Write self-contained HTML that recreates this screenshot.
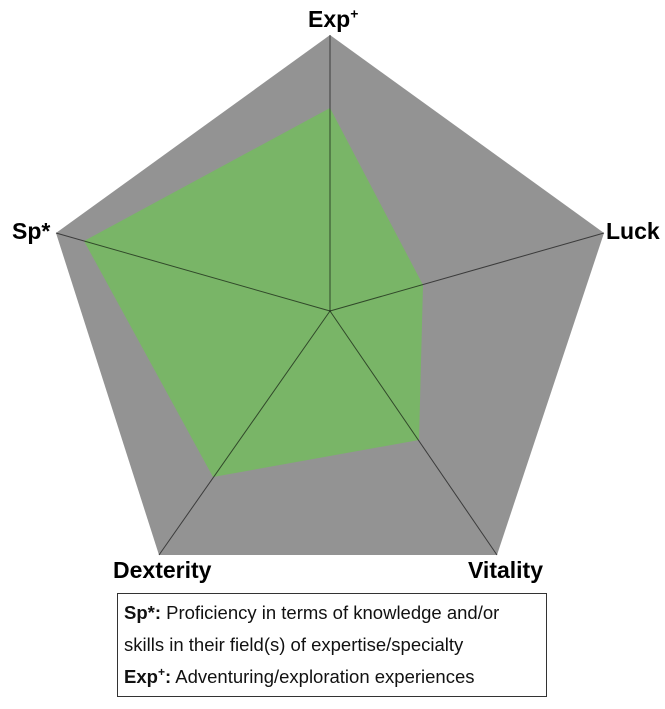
<!DOCTYPE html>
<html><head><style>
body{margin:0;background:#fff;width:665px;height:709px;overflow:hidden;position:relative;font-family:"Liberation Sans",sans-serif}
.l{position:absolute;font-weight:bold;font-size:23px;color:#000;white-space:nowrap}
.box{position:absolute;left:117px;top:593px;width:430px;height:104px;border:1px solid #333;box-sizing:border-box;padding:3px 0 0 6px;font-size:18.5px;line-height:32px;color:#111;white-space:nowrap}
sup{line-height:0}
</style></head><body>
<svg width="665" height="709" style="position:absolute;left:0;top:0">
<polygon points="330,35 604,233 497,555 159,555 56,233" fill="#939393"/>
<polygon points="330,108 423,285 419,440 213,477 84,241" fill="#79b567"/>
<g stroke="#000" stroke-opacity="0.6" stroke-width="1">
<line x1="330" y1="311" x2="330" y2="35"/>
<line x1="330" y1="311" x2="604" y2="233"/>
<line x1="330" y1="311" x2="497" y2="555"/>
<line x1="330" y1="311" x2="159" y2="555"/>
<line x1="330" y1="311" x2="56" y2="233"/>
</g>
</svg>
<div class="l" style="left:308px;top:6px">Exp<sup style="font-size:14px">+</sup></div>
<div class="l" style="left:12px;top:218px">Sp*</div>
<div class="l" style="left:606px;top:218px">Luck</div>
<div class="l" style="left:113px;top:557px">Dexterity</div>
<div class="l" style="left:468px;top:557px">Vitality</div>
<div class="box"><b>Sp*:</b> Proficiency in terms of knowledge and/or<br>skills in their field(s) of expertise/specialty<br><b>Exp<sup style="font-size:12px">+</sup>:</b> Adventuring/exploration experiences</div>
</body></html>
